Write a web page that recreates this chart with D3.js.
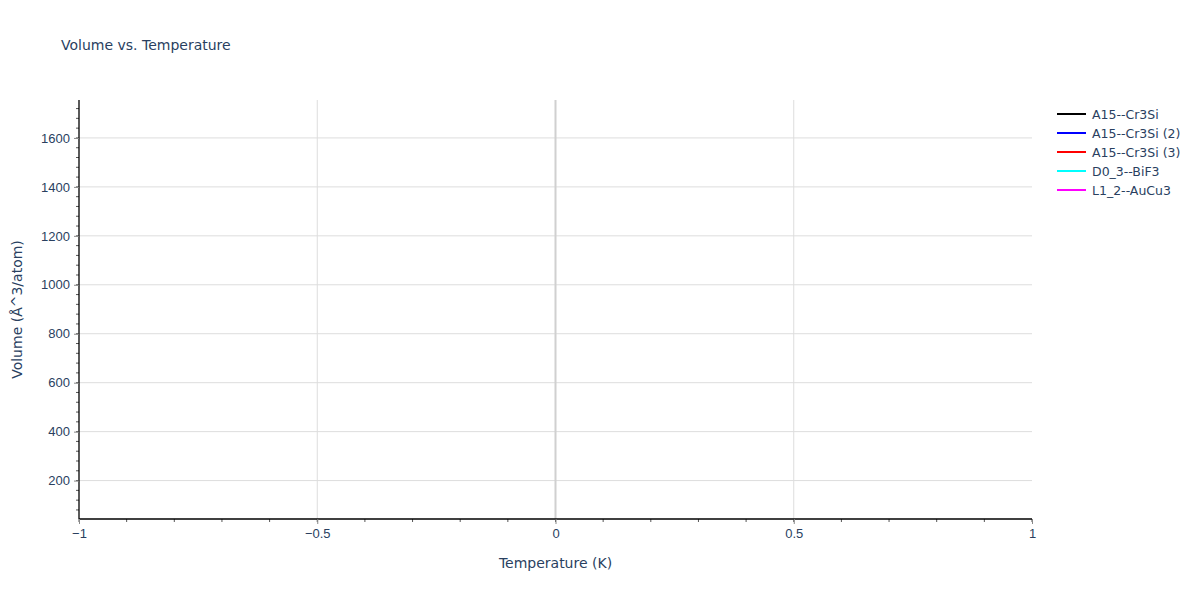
<!DOCTYPE html>
<html>
<head>
<meta charset="utf-8">
<script src="https://cdn.jsdelivr.net/npm/d3@7"></script>
<style>
  body { margin: 0; background: #fff; }
  svg { font-family: "DejaVu Sans", Verdana, sans-serif; }
</style>
</head>
<body>
<svg id="chart" width="1200" height="600"></svg>
<script>
// data (the series carry no drawable points in this chart)
const seriesNames = ['A15--Cr3Si', 'A15--Cr3Si (2)', 'A15--Cr3Si (3)', 'D0_3--BiF3', 'L1_2--AuCu3'];
const seriesColors = ['#000000', '#0000ff', '#ff0000', '#00ffff', '#ff00ff'];
const temperatures = [[], [], [], [], []];
const volumes = [[], [], [], [], []];

const xTicks = [-1, -0.5, 0, 0.5, 1];
const yTicks = [200, 400, 600, 800, 1000, 1200, 1400, 1600];
const xDomain = [-1, 1];
const yDomain = [43, 1755];

const margin = { left: 79, right: 168, top: 100, bottom: 81 };
const W = 1200, H = 600;
const textColor = '#2a3f5f';

let svg = d3.select('#chart');

let x = d3.scaleLinear().domain(xDomain).range([margin.left, W - margin.right]);
let y = d3.scaleLinear().domain(yDomain).range([H - margin.bottom, margin.top]);

// grid lines
svg.append('g')
  .selectAll('line')
  .data(yTicks)
  .join('line')
  .attr('x1', margin.left).attr('x2', W - margin.right)
  .attr('y1', d => y(d)).attr('y2', d => y(d))
  .attr('stroke', '#dddddd').attr('stroke-width', 1);

svg.append('g')
  .selectAll('line')
  .data(xTicks.filter(d => d !== 0 && d !== -1 && d !== 1))
  .join('line')
  .attr('x1', d => x(d)).attr('x2', d => x(d))
  .attr('y1', margin.top).attr('y2', H - margin.bottom)
  .attr('stroke', '#dddddd').attr('stroke-width', 1);

// zero line
svg.append('line')
  .attr('x1', x(0)).attr('x2', x(0))
  .attr('y1', margin.top).attr('y2', H - margin.bottom)
  .attr('stroke', '#d0d0d0').attr('stroke-width', 2);

// series
let line = d3.line().x(d => x(d[0])).y(d => y(d[1]));
seriesNames.forEach((name, i) => {
  const pts = temperatures[i].map((t, j) => [t, volumes[i][j]]);
  svg.append('path')
    .datum(pts)
    .attr('d', line)
    .attr('fill', 'none')
    .attr('stroke', seriesColors[i])
    .attr('stroke-width', 2);
});

// minor ticks
const xMinor = d3.range(-10, 11).map(d => d / 10);
const yMinor = d3.range(80, 1755, 40);

svg.append('g')
  .selectAll('line')
  .data(xMinor)
  .join('line')
  .attr('x1', d => x(d)).attr('x2', d => x(d))
  .attr('y1', H - margin.bottom).attr('y2', H - margin.bottom + 3)
  .attr('stroke', '#555').attr('stroke-width', 1);

svg.append('g')
  .selectAll('line')
  .data(yMinor)
  .join('line')
  .attr('x1', margin.left - 3).attr('x2', margin.left)
  .attr('y1', d => y(d)).attr('y2', d => y(d))
  .attr('stroke', '#555').attr('stroke-width', 1);

// axes
let xAxis = svg.append('g')
  .attr('transform', `translate(0,${H - margin.bottom})`)
  .call(d3.axisBottom(x).tickValues(xTicks).tickSize(5).tickPadding(5)
    .tickFormat(d => d === 0 ? '0' : d3.format('.1~f')(d).replace('-', '\u2212')));

let yAxis = svg.append('g')
  .attr('transform', `translate(${margin.left},0)`)
  .call(d3.axisLeft(y).tickValues(yTicks).tickSize(5).tickPadding(4).tickFormat(d3.format('d')));

[xAxis, yAxis].forEach(a => {
  a.select('.domain').attr('stroke', '#000').attr('stroke-width', 1.3);
  a.selectAll('.tick line').attr('stroke', '#888');
  a.selectAll('.tick text').attr('fill', textColor).style('font-size', '13px');
});
yAxis.select('.domain').attr('d', `M0,${H - margin.bottom}V${margin.top}`);
xAxis.select('.domain').attr('d', `M${margin.left},0H${W - margin.right}`);

// titles
svg.append('text')
  .attr('x', 61).attr('y', 50)
  .attr('fill', textColor)
  .style('font-size', '14px')
  .text('Volume vs. Temperature');

svg.append('text')
  .attr('x', (x(-1) + x(1)) / 2).attr('y', 568)
  .attr('text-anchor', 'middle')
  .attr('fill', textColor)
  .style('font-size', '14px')
  .text('Temperature (K)');

svg.append('text')
  .attr('transform', `translate(22,${(margin.top + H - margin.bottom) / 2}) rotate(-90)`)
  .attr('text-anchor', 'middle')
  .attr('fill', textColor)
  .style('font-size', '14px')
  .text('Volume (Å^3/atom)');

// legend
let legend = svg.append('g').attr('transform', 'translate(1057,114)');
let items = legend.selectAll('g')
  .data(seriesNames)
  .join('g')
  .attr('transform', (d, i) => `translate(0,${i * 19})`);
items.append('line')
  .attr('x1', 0).attr('x2', 29)
  .attr('stroke', (d, i) => seriesColors[i])
  .attr('stroke-width', 2);
items.append('text')
  .attr('x', 35).attr('y', 4.5)
  .attr('fill', textColor)
  .style('font-size', '12.5px')
  .text(d => d);
</script>
</body>
</html>
